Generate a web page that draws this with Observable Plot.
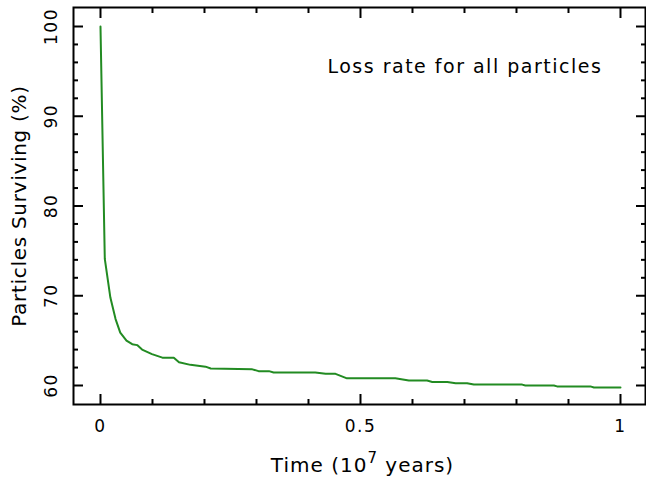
<!DOCTYPE html>
<html>
<head>
<meta charset="utf-8">
<script src="https://cdn.jsdelivr.net/npm/d3@7"></script>
<script src="https://cdn.jsdelivr.net/npm/@observablehq/plot@0.6"></script>
<style>
  html, body { margin: 0; padding: 0; background: #fff; }
</style>
</head>
<body>
<div id="chart"></div>
<script>
// Time in units of 10^7 years
const time = [0, 0.0083, 0.019, 0.029, 0.038, 0.05, 0.061, 0.0705, 0.080, 0.099, 0.119, 0.141, 0.151, 0.173, 0.202, 0.212, 0.292, 0.304, 0.324, 0.333, 0.413, 0.433, 0.452, 0.474, 0.567, 0.593, 0.628, 0.638, 0.667, 0.683, 0.705, 0.718, 0.811, 0.817, 0.872, 0.878, 0.942, 0.949, 1.0];
// Particles surviving (%)
const surviving = [100, 74.1, 69.8, 67.4, 65.9, 65.0, 64.6, 64.5, 64.0, 63.5, 63.1, 63.1, 62.6, 62.3, 62.1, 61.9, 61.8, 61.6, 61.6, 61.45, 61.45, 61.3, 61.3, 60.8, 60.8, 60.55, 60.55, 60.4, 60.4, 60.26, 60.26, 60.1, 60.1, 60.0, 60.0, 59.9, 59.9, 59.78, 59.78];

const xMajorTicks = [0, 0.5, 1];
const xMinorTicks = [0.1, 0.2, 0.3, 0.4, 0.6, 0.7, 0.8, 0.9];
const yMajorTicks = [60, 70, 80, 90, 100];
const yMinorTicks = [62, 64, 66, 68, 72, 74, 76, 78, 82, 84, 86, 88, 92, 94, 96, 98];

const xLabel = "Time (10^7 years)";
const yLabel = "Particles Surviving (%)";
const annotation = "Loss rate for all particles";

const data = time.map((t, i) => ({t, s: surviving[i]}));

const major = 10, minor = 5;
const noText = () => "";

const chart = Plot.plot({
  width: 646,
  height: 478,
  marginLeft: 73,
  marginRight: 1,
  marginTop: 7,
  marginBottom: 74,
  style: {fontFamily: "DejaVu Sans", fontSize: "16.5px", color: "#000", background: "#fff"},
  x: {domain: [-0.0519, 1.0481], axis: null},
  y: {domain: [57.883, 102.117], axis: null},
  marks: [
    // inward ticks
    Plot.axisX(xMajorTicks, {anchor: "bottom", tickSize: major, dy: -major, tickFormat: noText, label: null, strokeWidth: 2}),
    Plot.axisX(xMinorTicks, {anchor: "bottom", tickSize: minor, dy: -minor, tickFormat: noText, label: null, strokeWidth: 2}),
    Plot.axisX(xMajorTicks, {anchor: "top", tickSize: major, dy: major, tickFormat: noText, label: null, strokeWidth: 2}),
    Plot.axisX(xMinorTicks, {anchor: "top", tickSize: minor, dy: minor, tickFormat: noText, label: null, strokeWidth: 2}),
    Plot.axisY(yMajorTicks, {anchor: "left", tickSize: major, dx: major, tickFormat: noText, label: null, strokeWidth: 2}),
    Plot.axisY(yMinorTicks, {anchor: "left", tickSize: minor, dx: minor, tickFormat: noText, label: null, strokeWidth: 2}),
    Plot.axisY(yMajorTicks, {anchor: "right", tickSize: major, dx: -major, tickFormat: noText, label: null, strokeWidth: 2}),
    Plot.axisY(yMinorTicks, {anchor: "right", tickSize: minor, dx: -minor, tickFormat: noText, label: null, strokeWidth: 2}),
    // tick labels
    Plot.text(xMajorTicks, {x: d => d, frameAnchor: "bottom", dy: 27, textAnchor: "middle", lineAnchor: "bottom", text: d => String(d), fontSize: 17, className: "ticklab"}),
    Plot.text(yMajorTicks, {y: d => d, frameAnchor: "left", dx: -16.5, rotate: -90, textAnchor: "middle", lineAnchor: "bottom", text: d => String(d), fontSize: 17, className: "ticklab"}),
    // axis labels
    Plot.text([xLabel], {frameAnchor: "bottom", dy: 67.7, dx: 3, textAnchor: "middle", lineAnchor: "bottom", text: d => d, fontSize: 20, className: "xlab"}),
    Plot.text([yLabel], {frameAnchor: "left", dx: -48, dy: 0, rotate: -90, textAnchor: "middle", lineAnchor: "bottom", text: d => d, fontSize: 20, className: "ylab"}),
    // annotation
    Plot.text([annotation], {x: 0.4365, y: 94.87, textAnchor: "start", lineAnchor: "bottom", text: d => d, fontSize: 19, className: "annot"}),
    // data
    Plot.line(data, {x: "t", y: "s", stroke: "#228b22", strokeWidth: 2}),
    Plot.frame({stroke: "#000", strokeWidth: 2})
  ]
});

document.getElementById("chart").appendChild(chart);

// letter spacing and superscript
const sel = d3.select(chart);
sel.selectAll(".ticklab text").style("letter-spacing", "1.5px");
sel.selectAll(".ylab text").style("letter-spacing", "0.7px");
sel.selectAll(".annot text").style("letter-spacing", "1.5px");
sel.selectAll(".xlab text").each(function() {
  const el = d3.select(this);
  el.style("letter-spacing", "1px");
  el.text(null);
  el.append("tspan").text("Time (10");
  el.append("tspan").attr("dy", "-9").attr("font-size", "15").text("7");
  el.append("tspan").attr("dy", "9").text(" years)");
});
</script>
</body>
</html>
